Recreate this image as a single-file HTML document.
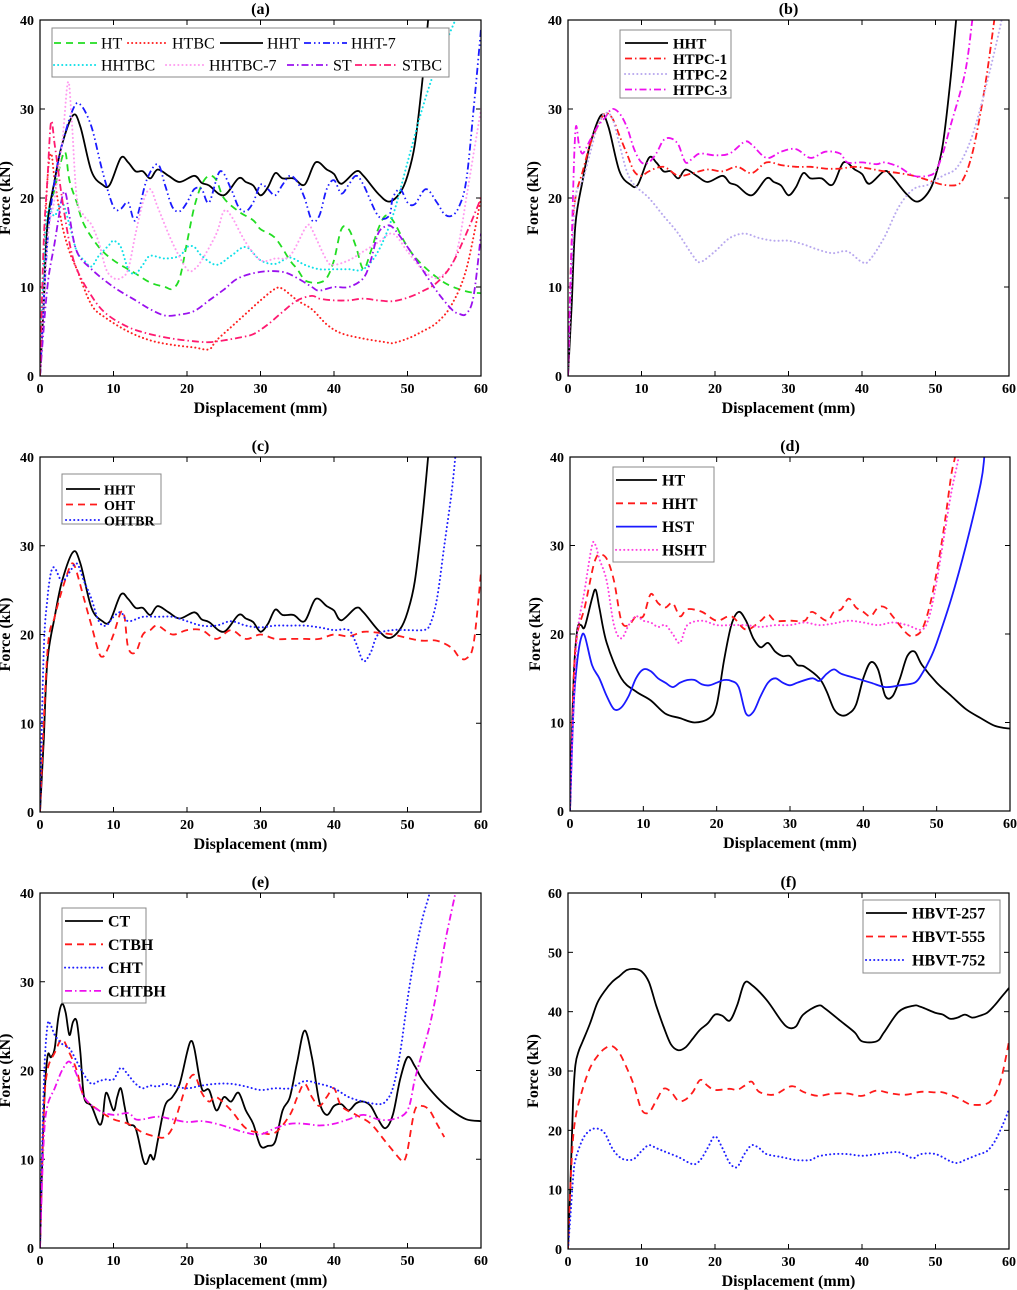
<!DOCTYPE html>
<html><head><meta charset="utf-8">
<style>
html,body{margin:0;padding:0;background:#fff;}
svg{display:block;}
text{font-family:"Liberation Serif",serif;}
</style></head>
<body>
<svg id="fig" width="1017" height="1290" viewBox="0 0 1017 1290" xmlns="http://www.w3.org/2000/svg"></svg>
<script>
// ---- Data (displacement mm, force kN) ----
const a_HT=[[0,0],[1,17],[2,21],[3,24.5],[3.5,25],[4,22],[5,19.5],[6,17],[8,14.5],[10,13],[13,11.5],[15,10.5],[17,10],[18,9.8],[19,11],[20,15],[21,19],[22,21.5],[23,22.5],[24,22],[25,20],[27,18.5],[29,17.5],[30,16.5],[32,15.5],[34,13],[35,12],[36,10.8],[37,10.5],[38,10.5],[39,11],[40,13],[41,16.5],[42,16.5],[43,14.5],[44,12],[45,14],[46,16.5],[47,18],[48,17.5],[50,14.5],[52,12.5],[55,10.5],[58,9.5],[60,9.3]];
const a_HTBC=[[0,0],[0.5,12],[1,22],[1.5,25],[2,22],[3,17],[4,14],[5,12],[7,8],[9,6.5],[12,5],[15,4],[18,3.5],[21,3.2],[23,3],[24,4],[26,5.5],[28,7],[30,8.5],[32,9.8],[33,9.8],[35,8.5],[37,7.5],[39,5.8],[41,4.8],[44,4.2],[47,3.8],[48,3.7],[50,4.2],[52,5],[54,6],[56,8],[58,12],[60,20]];
const HHT=[[0,0],[0.5,8],[1,17],[2,22],[3,26],[4.5,29.3],[5.5,28],[7,23],[8.5,21.5],[9.5,21.5],[11,24.5],[12,24],[13,23],[14,23],[15,22.2],[16,23.2],[17.5,22.5],[19,21.8],[21,22.5],[22,21.7],[23,21.4],[25,20.3],[27,22.2],[28,21.8],[29,21.4],[30,20.3],[31,21.2],[32,22.8],[33,22.2],[34.5,22.2],[36,21.5],[37.5,24],[39,23.2],[40,22.7],[41,21.6],[43,23],[44,22.5],[46,20.5],[47.5,19.6],[49,20.6],[50,22.5],[51,26],[52,33],[52.8,40],[53,42]];
const a_HHT7=[[0,0],[1,15],[2,22],[3,26],[4.5,30],[5.5,30.5],[7,28],[8.5,23],[10,19],[11,18.8],[12,19.5],[13,17.5],[14.5,22],[16,23.8],[17,21.5],[18,19],[19,18.5],[20,19.5],[21,21],[22,21],[23,19.5],[24.5,23],[26,21],[27,19],[28,18.5],[29,19.5],[30,21.5],[31,21],[32,20.3],[33,21.5],[34,22.5],[35,21.8],[36,20],[37,17.5],[38,18],[39,21],[40,22],[41,20.5],[42,21.5],[43,22.5],[44,21.5],[46,18],[47.5,18],[48,20],[49,21],[50,19.5],[51,19.3],[52.5,21],[54,19.5],[55,18.2],[56,18],[57,19],[58,22],[59,30],[60,39]];
const a_HHTBC=[[0,0],[0.5,12],[1,18.5],[2,18],[3,19.5],[4,17],[5,14],[6,13],[7,12.3],[8,13.5],[9.5,14.8],[10,15.2],[11,14.5],[12,12],[13,11.5],[14,12.5],[15,13.5],[17,13.2],[19,13.5],[20,14.5],[21,14.5],[22,13.5],[24,12.5],[26,13.5],[28,14.5],[30,13],[32,12.6],[34,13.3],[36,12.5],[38,12],[40,12],[42,12],[44,12],[46,14],[48,18],[50,24],[52,30],[54,35],[56.5,40],[57,41]];
const a_HHTBC7=[[0,0],[1,15],[2,20],[3,26],[3.8,33],[4.3,29],[5,20],[6,18],[7,17],[8,15],[9,12],[10,11],[11,11],[12,12],[13,16],[14,19.5],[15,21],[16,19],[18,15],[20,12],[21,12],[22,13],[24,16],[25,18.5],[26,18],[28,15],[30,13],[32,13.2],[34,13.5],[36,16.5],[36.5,17],[37,16.5],[39,13],[40,12.5],[42,13],[44,14],[46,15],[48,16],[50,14],[52,12],[54,11],[56,12.5],[57,15],[58,20],[59,25],[60,30]];
const a_ST=[[0,0],[1,10],[2,15],[3,20],[3.5,20.5],[4,18],[5,14],[7,12],[10,10],[13,8.5],[15,7.5],[17,6.8],[19,6.9],[21,7.3],[23,8.5],[25,9.7],[27,11],[30,11.7],[33,11.7],[35,11],[37,10],[38,9.6],[40,10],[42,10],[44,11],[45,13],[46,16],[47,16.8],[48,16.7],[50,14.5],[52,12],[54,9.5],[56,7.5],[57,7],[58,7],[59,9],[60,16]];
const a_STBC=[[0,0],[0.5,15],[1,22],[1.5,28.5],[2,26],[3,20],[4,15],[5,12],[7,9],[9,7],[12,5.5],[15,4.7],[18,4.2],[21,3.9],[23,3.8],[25,4],[27,4.3],[29,4.7],[31,5.8],[33,7.2],[35,8.5],[37,9],[38,8.7],[40,8.5],[42,8.5],[44,8.7],[46,8.5],[48,8.4],[50,8.8],[52,9.5],[54,10.5],[56,12.5],[58,16],[60,20]];
const b_HTPC1=[[0,0],[0.5,15],[1,20],[2,23],[3,26],[4,28],[5,29.5],[6,29],[7,27],[8,25],[9,23],[10,22.5],[11,23],[13,23.5],[15,22.5],[17,22.8],[19,23.2],[21,23],[23,23.5],[25,22.8],[27,24],[29,23.7],[31,23.5],[33,23.5],[35,23.3],[37,23.3],[39,23.5],[41,23.3],[43,23],[45,22.8],[47,22.5],[49,22],[51,21.5],[53,21.5],[54,22.5],[55,25],[56,29],[57,34],[58,40],[58.3,42]];
const b_HTPC2=[[0,0],[0.5,12],[1,20],[2,22],[3,25],[4,28],[5,29.5],[6,29],[7,26],[8,23],[9,21.5],[11,20],[13,18],[15,16],[17,13.5],[18,12.8],[20,14],[22,15.5],[24,16],[26,15.5],[28,15.2],[30,15.2],[32,14.8],[34,14.2],[36,13.8],[38,14],[40,12.8],[41,13],[43,15.5],[45,19],[47,21],[49,21.5],[51,22.5],[53,23.5],[55,27],[57,33],[59,40],[59.3,42]];
const b_HTPC3=[[0,0],[0.5,15],[1,27.5],[1.5,26],[2,25],[3,26.5],[4,28],[5,29],[6,30],[7,29.5],[8,28],[9,25.5],[10,24],[11,24],[12,25],[13,26.5],[14,26.7],[15,26],[16,24],[17,24.5],[18,25],[20,24.8],[22,25],[24,26.3],[25,26],[27,24.5],[29,25.2],[31,25.5],[33,24.5],[35,25.2],[37,25],[38,24],[40,24],[42,23.8],[43,24],[45,23.5],[47,22.5],[49,22.5],[50,23],[51,25],[52,28],[54,34],[55,40],[55.3,42]];
const c_OHT=[[0,0],[1,18],[2,22],[3,25],[4,27.5],[4.5,28],[5,27],[6,24],[7,21],[8,18],[8.5,17.5],[9,18],[10,20],[11,22.5],[11.5,22],[12,18.5],[13,18],[14,20],[15,20.5],[16,21],[18,20],[20,20.5],[22,20.5],[24,19.5],[26,20.5],[28,19.5],[30,20],[32,19.5],[34,19.5],[36,19.5],[38,19.5],[40,20],[42,19.8],[44,20.3],[46,20.2],[48,20],[50,19.6],[52,19.3],[54,19.3],[56,18.5],[57,17.5],[58,17.3],[59,19],[60,27]];
const c_OHTBR=[[0,0],[0.5,18],[1,24],[1.5,27],[2,27.5],[3,26],[4,27],[5,28],[6,26],[7,24],[8,21.5],[9,21],[10,22],[11,22.5],[12,21.5],[14,22],[16,22],[18,22],[20,21.5],[22,21],[24,21],[26,21.5],[28,21],[30,20.8],[32,21],[34,21],[36,21],[38,20.8],[40,20.5],[42,20.5],[43,19],[44,17],[45,18],[46,20],[48,20.5],[50,20.5],[52,20.5],[53,21],[54,24],[55,30],[56,36],[56.5,40],[56.7,42]];
const d_HT=[[0,0],[0.5,15],[1,20.5],[1.5,21],[2,20.8],[3,24],[3.5,25],[4,23],[5,19],[7,15],[9,13.5],[11,12.5],[13,11],[15,10.5],[17,10],[19,10.5],[20,12],[21,17],[22,21],[23,22.5],[24,21.5],[25,19.5],[26,18.5],[27,19],[28,18],[29,17.5],[30,17.5],[31,16.5],[32,16.3],[34,15],[35,13.5],[36,11.5],[37,10.8],[38,11],[39,12],[40,15],[41,16.8],[42,16],[43,13],[44,13],[45,15],[46,17.5],[47,18],[48,16.5],[50,14.5],[52,13],[54,11.5],[56,10.5],[58,9.6],[60,9.3]];
const d_HHT=[[0,0],[0.5,15],[1,20],[2,23],[3,27],[3.5,28.5],[4,29],[5,28.5],[6,26],[7,21.5],[8,21],[9,22],[10,22],[11,24.5],[12,23.5],[13,23],[14,23.5],[15,22],[16,22.8],[18,22.5],[20,21.5],[22,22],[24,20.5],[26,21.5],[27,22.2],[28,21.5],[30,21.5],[32,21.5],[33,22.5],[35,21.5],[36,22.5],[37,22.8],[38,24],[39,23],[40,22.5],[41,22],[42,23],[43,23],[44,22],[46,20],[47,19.8],[48,20.5],[49,23],[50,27],[51,32],[52,38],[52.5,40],[52.7,42]];
const d_HST=[[0,0],[0.5,12],[1,17],[1.5,19.5],[2,19.8],[3,16.5],[4,15],[5,13],[6,11.5],[7,11.7],[8,13],[9,15],[10,16],[11,15.8],[12,15],[13,14.5],[14,14],[15,14.5],[16,14.8],[17,14.8],[18,14.3],[19,14.2],[20,14.5],[21,14.8],[22,14.7],[23,14],[24,11],[25,11.2],[26,13],[27,14.5],[28,15],[29,14.5],[30,14.2],[31,14.5],[33,15],[34,14.7],[35,15.5],[36,16],[37,15.5],[39,15],[41,14.5],[43,14],[45,14.2],[47,14.5],[48,15.5],[49,17],[50,19],[52,24],[54,30],[56,37],[56.5,40],[56.7,42]];
const d_HSHT=[[0,0],[0.5,12],[1,20],[2,25],[3,30],[3.5,30],[4,28.5],[5,26],[6,21],[7,19.5],[8,21],[9,22],[10,21.5],[11,21.3],[12,20.8],[13,21],[14,20],[15,19],[16,21],[18,21.5],[20,21],[22,21],[24,21],[26,20.8],[28,21],[30,21],[32,21.3],[34,21],[36,21.2],[38,21.5],[40,21.3],[42,21],[44,21.3],[46,21],[48,20.5],[49,22],[50,26],[51,31],[52,36],[53,40],[53.3,42]];
const e_CT=[[0,0],[0.5,15],[1,21.5],[1.5,21.5],[2,22.5],[2.5,26],[3,27.5],[3.5,26.5],[4,24],[4.5,25.5],[5,25.5],[5.5,22],[6,17],[7,16],[8,14],[8.5,14.5],[9,17.5],[10,15.5],[10.5,17],[11,18],[11.5,16],[12,14],[13,13.5],[14,10],[14.5,9.5],[15,10.5],[15.5,10],[16,12],[17,16],[18,17],[19,18.5],[20,22],[20.5,23.3],[21,22.5],[22,18],[23,17.8],[24,15.5],[25,17],[26,16.5],[27,17.5],[28,15.5],[29,14],[30,11.5],[31,11.5],[32,12],[33,15.5],[34,17],[35,21],[36,24.5],[37,21.5],[38,16.5],[39,15],[40,16],[41,16.2],[42,15.5],[43,16.3],[44,16.5],[45,16],[46,14.5],[47,13.5],[48,15],[49,19],[50,21.5],[51,20.5],[52,19],[54,17],[56,15.5],[58,14.5],[60,14.3]];
const e_CTBH=[[0,0],[0.5,15],[1,20],[2,22],[3,23.5],[4,22],[5,20],[6,17],[8,15.5],[10,14.5],[12,14],[14,13],[16,12.5],[17,12.5],[18,13.5],[19,16],[20,18.5],[21,19.5],[22,17.5],[23,16.5],[24,17],[26,15.5],[28,13.5],[30,13],[32,13],[34,15],[35,17],[36,18.5],[37,17],[38,16],[39,17],[40,18],[41,16],[43,15],[45,14],[47,12],[49,10],[49.5,9.8],[50,11],[51,15.5],[52,16],[53,15.5],[54,14],[55,12.5]];
const e_CHT=[[0,0],[0.5,18],[1,25],[1.5,25],[2,24],[3,23],[4,22.5],[5,21],[6,19.5],[7,18.5],[8,18.8],[9,19],[10,19],[11,20.3],[12,19.5],[13,18.5],[14,18],[15,18.3],[16,18.2],[17,18.5],[18,18.3],[20,18],[22,18.3],[24,18.5],[26,18.5],[28,18.2],[30,17.8],[32,18],[34,18],[36,18.8],[38,18.5],[40,18],[42,17],[44,16.5],[46,16.2],[47,16.5],[48,18],[49,22],[50,28],[51,33],[52,37],[53,40],[53.3,42]];
const e_CHTBH=[[0,0],[0.5,12],[1,16],[2,18],[3,20],[4,21],[5,19.5],[6,17],[8,15.5],[10,15],[12,15.2],[13,14.5],[14,14.5],[16,14.8],[18,14.5],[20,14.2],[22,14.3],[24,14],[26,13.5],[28,13],[30,12.8],[32,13.5],[34,14],[36,14],[38,13.8],[40,14],[42,14.5],[44,15],[46,14.5],[48,14.5],[50,15.5],[51,19],[52,22],[53,25],[54,29],[55,34],[56,38],[56.5,40],[56.7,42]];
const f_257=[[0,0],[0.3,10],[0.7,25],[1,31],[1.5,33.5],[2,35],[3,38],[4,41.5],[5,43.5],[6,45],[7,46],[8,47],[9,47.2],[10,46.8],[11,45],[12,41],[13,37.5],[14,34.5],[15,33.5],[16,34],[17,35.5],[18,37],[19,38],[20,39.5],[21,39.3],[22,38.5],[23,41],[24,44.8],[25,44.5],[27,42],[29,38.5],[30,37.3],[31,37.5],[32,39.5],[34,41],[35,40.5],[37,38.5],[39,36.5],[40,35],[42,35],[43,36.5],[45,40],[47,41],[48,40.8],[50,39.8],[51,39.5],[52,38.8],[53,39],[54,39.5],[55,39],[56,39.3],[57,39.8],[58,41],[59,42.5],[60,44]];
const f_555=[[0,0],[0.5,15],[1,22],[2,27],[3,30.5],[4,32.5],[5,33.8],[6,34.2],[7,33],[8,30.5],[9,27.5],[10,23.5],[11,23],[12,25],[13,27],[14,26.5],[15,25],[16,25.2],[17,26.5],[18,28.5],[19,27.5],[20,26.8],[22,27],[23,26.8],[24,27.5],[25,28.2],[26,26.5],[28,26],[30,27.3],[31,27.3],[32,26.5],[34,25.8],[36,26.2],[38,26.2],[40,25.8],[42,26.7],[44,26.2],[46,26],[48,26.5],[50,26.4],[51,26.4],[53,25.5],[54,24.8],[55,24.3],[57,24.5],[58,25.8],[59,29],[60,35]];
const f_752=[[0,0],[0.3,5],[0.7,12],[1,15],[2,18.5],[3,20],[4,20.3],[5,19.5],[6,17],[7,15.5],[8,15],[9,15.2],[10,16.5],[11,17.5],[12,17],[13,16.5],[15,15.5],[17,14.3],[18,15],[19,17],[20,19],[21,17],[22,14.5],[23,13.8],[24,16],[25,17.5],[26,17],[27,16],[29,15.5],[31,15],[33,15],[34,15.6],[36,16],[38,16],[40,15.7],[42,16],[44,16.3],[45,16.3],[46,15.8],[47,15.3],[48,16],[50,16],[52,14.8],[53,14.5],[54,15],[56,16],[57,16.5],[58,18],[59,20.5],[60,23.5]];
const xTicks=[0,10,20,30,40,50,60];
const yTicks40=[0,10,20,30,40];
const yTicks60=[0,10,20,30,40,50,60];

const NS='http://www.w3.org/2000/svg';
const svg=document.getElementById('fig');
function mk(tag,attrs,parent){const e=document.createElementNS(NS,tag);for(const k in attrs)e.setAttribute(k,attrs[k]);(parent||svg).appendChild(e);return e;}
const STY={
 solid:{dash:null,w:1.8},
 dash:{dash:'7 5',w:1.8},
 dot:{dash:'0.1 4',w:2,cap:'round'},
 dashdot:{dash:'7 3 1.5 3',w:1.8},
 dashdotdot:{dash:'7 3 1.5 3 1.5 3',w:1.8}
};
function smoothPath(pts){
 let d='M'+pts[0][0].toFixed(1)+','+pts[0][1].toFixed(1);
 for(let i=0;i<pts.length-1;i++){
  const p0=pts[Math.max(0,i-1)],p1=pts[i],p2=pts[i+1],p3=pts[Math.min(pts.length-1,i+2)];
  const c1x=p1[0]+(p2[0]-p0[0])/6,c1y=p1[1]+(p2[1]-p0[1])/6;
  const c2x=p2[0]-(p3[0]-p1[0])/6,c2y=p2[1]-(p3[1]-p1[1])/6;
  d+=' C'+c1x.toFixed(1)+','+c1y.toFixed(1)+' '+c2x.toFixed(1)+','+c2y.toFixed(1)+' '+p2[0].toFixed(1)+','+p2[1].toFixed(1);
 }
 return d;
}
let clipId=0;
function panel(cfg){
 const g=mk('g',{});
 
 
 const {x0,x1,y0,y1,ymax,yt}=cfg;
 const sx=v=>x0+(v/60)*(x1-x0);
 const sy=v=>y1-(v/ymax)*(y1-y0);
 const cid='clip'+(clipId++);
 const cp=mk('clipPath',{id:cid},g);mk('rect',{x:x0,y:y0,width:x1-x0,height:y1-y0},cp);
 const ttl=mk('text',{x:(x0+x1)/2,y:y0-6,'text-anchor':'middle','font-size':16,'font-weight':'bold'},g);ttl.textContent='('+cfg.id+')';
 
 xTicks.forEach(t=>{
  mk('line',{x1:sx(t),x2:sx(t),y1:y1,y2:y1-5,stroke:'#000','stroke-width':1},g);
  mk('line',{x1:sx(t),x2:sx(t),y1:y0,y2:y0+5,stroke:'#000','stroke-width':1},g);
  const tx=mk('text',{x:sx(t),y:y1+17,'text-anchor':'middle','font-size':14,'font-weight':'bold'},g);tx.textContent=t;
  
 });
 yt.forEach(t=>{
  mk('line',{x1:x0,x2:x0+5,y1:sy(t),y2:sy(t),stroke:'#000','stroke-width':1},g);
  mk('line',{x1:x1,x2:x1-5,y1:sy(t),y2:sy(t),stroke:'#000','stroke-width':1},g);
  const tx=mk('text',{x:x0-6,y:sy(t)+5,'text-anchor':'end','font-size':14,'font-weight':'bold'},g);tx.textContent=t;
  
 });
 const xl=mk('text',{x:(x0+x1)/2,y:y1+37,'text-anchor':'middle','font-size':16,'font-weight':'bold'},g);xl.textContent='Displacement (mm)';
 
 const yx=x0-30,yy=(y0+y1)/2;
 const yl=mk('text',{x:yx,y:yy,'text-anchor':'middle','font-size':16,'font-weight':'bold',transform:'rotate(-90 '+yx+' '+yy+')'},g);yl.textContent='Force (kN)';
 
 const sg=mk('g',{'clip-path':'url(#'+cid+')'},g);
 cfg.series.forEach(s=>{
  const st=STY[s.style];
  const p=mk('path',{d:smoothPath(s.data.map(q=>[sx(q[0]),sy(q[1])])),fill:'none',stroke:s.color,'stroke-width':st.w,'stroke-linecap':st.cap||'butt','stroke-linejoin':'round'},sg);
  if(st.dash)p.setAttribute('stroke-dasharray',st.dash);
  
  
 });
 mk('rect',{x:x0,y:y0,width:x1-x0,height:y1-y0,fill:'none',stroke:'#000','stroke-width':1.2},g);
 const L=cfg.legend;
 const lg=mk('g',{},g);
 
 
 mk('rect',{x:L.x,y:L.y,width:L.w,height:L.h,fill:'#fff',stroke:'#888','stroke-width':1},lg);
 L.items.forEach(it=>{
  const s=cfg.series[it.i];const st=STY[s.style];
  const ln=mk('line',{x1:it.lx1,x2:it.lx2,y1:it.y,y2:it.y,stroke:s.color,'stroke-width':st.w,'stroke-linecap':st.cap||'butt'},lg);
  if(st.dash)ln.setAttribute('stroke-dasharray',st.dash);
  const tx=mk('text',{x:it.tx,y:it.y+5.5,'font-size':L.fs,'font-weight':L.bold?'bold':'normal'},lg);tx.textContent=s.name;
  
 });
}
function vlist(names,x,y,step,lx1,lx2,tx){return names.map((n,i)=>({i:i,y:y+i*step,lx1:lx1,lx2:lx2,tx:tx}));}

panel({id:'a',x0:40,x1:481,y0:20,y1:376,ymax:40,yt:yTicks40,
 series:[{name:'HT',data:a_HT,color:'#22dd22',style:'dash'},{name:'HTBC',data:a_HTBC,color:'#ff2020',style:'dot'},{name:'HHT',data:HHT,color:'#000',style:'solid'},{name:'HHT-7',data:a_HHT7,color:'#1a1aff',style:'dashdotdot'},
  {name:'HHTBC',data:a_HHTBC,color:'#10e0e8',style:'dot'},{name:'HHTBC-7',data:a_HHTBC7,color:'#ff9cf0',style:'dot'},{name:'ST',data:a_ST,color:'#9a10ee',style:'dashdot'},{name:'STBC',data:a_STBC,color:'#ff1a70',style:'dashdot'}],
 legend:{x:52,y:28,w:397,h:49,fs:16,bold:false,items:[
  {i:0,y:43,lx1:54,lx2:97,tx:101},{i:1,y:43,lx1:128,lx2:167,tx:172},{i:2,y:43,lx1:220,lx2:263,tx:267},{i:3,y:43,lx1:304,lx2:347,tx:351},
  {i:4,y:65,lx1:54,lx2:97,tx:101},{i:5,y:65,lx1:166,lx2:205,tx:209},{i:6,y:65,lx1:287,lx2:330,tx:333},{i:7,y:65,lx1:355,lx2:398,tx:402}]}
});
panel({id:'b',x0:568,x1:1009,y0:20,y1:376,ymax:40,yt:yTicks40,
 series:[{name:'HHT',data:HHT,color:'#000',style:'solid'},{name:'HTPC-1',data:b_HTPC1,color:'#ff1a1a',style:'dashdot'},{name:'HTPC-2',data:b_HTPC2,color:'#b8a8ee',style:'dot'},{name:'HTPC-3',data:b_HTPC3,color:'#ee10ee',style:'dashdot'}],
 legend:{x:620,y:30,w:111,h:68,fs:15,bold:true,items:vlist([0,1,2,3],0,43,15.5,625,668,673)}
});
panel({id:'c',x0:40,x1:481,y0:457,y1:812,ymax:40,yt:yTicks40,
 series:[{name:'HHT',data:HHT,color:'#000',style:'solid'},{name:'OHT',data:c_OHT,color:'#ff1a1a',style:'dash'},{name:'OHTBR',data:c_OHTBR,color:'#2020ff',style:'dot'}],
 legend:{x:62,y:474,w:99,h:50,fs:14,bold:true,items:vlist([0,1,2],0,489,15.5,66,100,104)}
});
panel({id:'d',x0:570,x1:1010,y0:457,y1:811,ymax:40,yt:yTicks40,
 series:[{name:'HT',data:d_HT,color:'#000',style:'solid'},{name:'HHT',data:d_HHT,color:'#ff1a1a',style:'dash'},{name:'HST',data:d_HST,color:'#1a1aff',style:'solid'},{name:'HSHT',data:d_HSHT,color:'#ff40e0',style:'dot'}],
 legend:{x:613,y:467,w:101,h:95,fs:16,bold:true,items:vlist([0,1,2,3],0,480,23.3,616,657,662)}
});
panel({id:'e',x0:40,x1:481,y0:893,y1:1248,ymax:40,yt:yTicks40,
 series:[{name:'CT',data:e_CT,color:'#000',style:'solid'},{name:'CTBH',data:e_CTBH,color:'#ff1a1a',style:'dash'},{name:'CHT',data:e_CHT,color:'#2020ff',style:'dot'},{name:'CHTBH',data:e_CHTBH,color:'#ee10ee',style:'dashdot'}],
 legend:{x:62,y:908,w:84,h:95,fs:16,bold:true,items:vlist([0,1,2,3],0,921,23.3,65,103,108)}
});
panel({id:'f',x0:568,x1:1009,y0:893,y1:1249,ymax:60,yt:yTicks60,
 series:[{name:'HBVT-257',data:f_257,color:'#000',style:'solid'},{name:'HBVT-555',data:f_555,color:'#ff1a1a',style:'dash'},{name:'HBVT-752',data:f_752,color:'#2020ff',style:'dot'}],
 legend:{x:863,y:900,w:137,h:73,fs:16,bold:true,items:vlist([0,1,2],0,913,23.5,866,907,912)}
});
</script>
</body></html>
